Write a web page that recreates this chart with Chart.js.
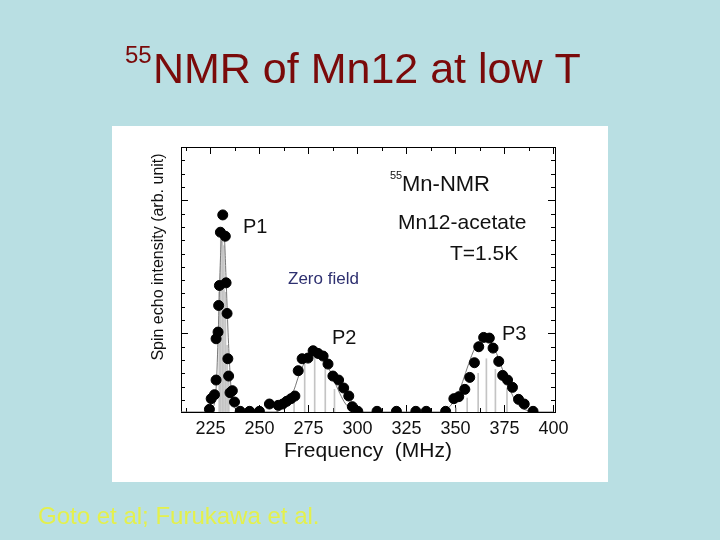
<!DOCTYPE html>
<html>
<head>
<meta charset="utf-8">
<script src="https://cdn.jsdelivr.net/npm/chart.js@4.4.0/dist/chart.umd.min.js"></script>
<style>
  html, body { margin: 0; padding: 0; background: #b9dfe3; }
  #wrap { width: 720px; height: 540px; }
</style>
</head>
<body>
<div id="wrap"><canvas id="graphique" width="720" height="540"></canvas></div>
<script>
// points mesures (frequence MHz, intensite arb.)
const freqMesure = [224.5, 225.4, 227.1, 227.9, 227.9, 228.9, 229.2, 229.6, 230.1, 231.3, 232.6, 233.0, 233.5,
  233.9, 234.3, 235.0, 236.2, 237.3, 240.2, 245.0, 250.0, 255.1, 259.6, 261.9, 263.9, 266.1, 268.1,
  269.8, 271.8, 274.8, 277.4, 279.9, 282.5, 285.0, 287.5, 290.4, 293.0, 295.6, 297.4, 300.2, 310.0,
  319.9, 329.8, 335.1, 345.0, 349.2, 351.7, 354.8, 357.3, 359.7, 361.9, 364.4, 367.3, 369.2, 372.1,
  374.1, 376.6, 379.1, 382.2, 385.1, 389.6];
const intensiteMesure = [0.2, 1.0, 1.3, 2.4, 5.5, 6.0, 8.0, 9.5, 13.5, 14.8, 13.2, 9.7, 7.4,
  4.0, 2.7, 1.45, 1.6, 0.75, 0.05, 0.05, 0.05, 0.6, 0.5, 0.6, 0.8, 1.0, 1.2,
  3.1, 4.0, 4.05, 4.6, 4.4, 4.2, 3.6, 2.7, 2.4, 1.8, 1.2, 0.4, 0.05, 0.05,
  0.05, 0.05, 0.05, 0.05, 1.0, 1.15, 1.7, 2.6, 3.7, 4.9, 5.6, 5.55, 4.8, 3.8,
  2.75, 2.4, 1.85, 0.95, 0.6, 0.05];

// courbe d'ajustement
const freqFit = [210, 222, 226, 228, 229, 230, 231, 232, 233, 234, 235, 236, 238, 240, 258, 262, 265, 268,
  270, 273, 276, 279, 282, 285, 288, 291, 294, 297, 300, 343, 347, 350, 353, 356, 359, 362, 365,
  368, 371, 374, 377, 380, 383, 387, 390, 400];
const intensiteFit = [0, 0, 0.3, 2.0, 6.0, 11.0, 13.8, 13.4, 10.0, 6.0, 3.0, 1.0, 0.2, 0, 0, 0.3, 0.8, 1.8,
  2.7, 3.7, 4.3, 4.4, 4.1, 3.4, 2.4, 1.4, 0.6, 0.2, 0, 0, 0.4, 1.0, 2.0, 3.3, 4.5, 5.3, 5.6,
  5.3, 4.4, 3.2, 2.0, 1.0, 0.4, 0.1, 0, 0];

// raies (spectre en batons)
const freqRaies = [229.5, 230.3, 231.1, 231.9, 232.7, 233.5, 234.4, 267.7, 273.1, 278.2, 283.6, 288.3,
  350.4, 356.0, 361.6, 365.8, 370.4, 376.3];
const hauteurRaies = [9.0, 13.0, 13.8, 12.5, 9.0, 5.0, 2.5, 1.4, 3.7, 4.3, 3.7, 1.7,
  0.3, 1.05, 2.9, 4.0, 3.2, 1.8];

// graduations
const xGraduations = [212.5, 225, 237.5, 250, 262.5, 275, 287.5, 300, 312.5, 325, 337.5, 350, 362.5, 375, 387.5, 400];
const xEtiquettes = [225, 250, 275, 300, 325, 350, 375, 400];
const yGraduations = [0.9, 1.9, 2.9, 3.9, 4.9, 5.9, 6.9, 7.9, 8.9, 9.9, 10.9, 11.9, 12.9, 13.9, 14.9, 15.9, 16.9, 17.9, 18.9];
const yMajeures = [5.9, 15.9];

const police = '"Liberation Sans", Arial, sans-serif';

function points(xs, ys) {
    return xs.map((x, i) => ({ x: x, y: ys[i] }));
}

// fond, titre, cadre, annotations
const decor = {
    id: 'decor',
    beforeDraw(chart) {
        const c = chart.ctx;
        c.save();
        c.fillStyle = '#b9dfe3';
        c.fillRect(0, 0, 720, 540);
        c.fillStyle = '#ffffff';
        c.fillRect(112, 126, 496, 356);
        c.restore();
    },
    beforeDatasetsDraw(chart) {
        const c = chart.ctx;
        const a = chart.chartArea;
        const sx = chart.scales.x, sy = chart.scales.y;
        c.save();
        c.strokeStyle = '#000';
        c.lineWidth = 1;
        c.strokeRect(Math.round(a.left) + 0.5, Math.round(a.top) + 0.5, Math.round(a.right - a.left), Math.round(a.bottom - a.top));
        c.beginPath();
        xGraduations.forEach(v => {
            const px = Math.round(sx.getPixelForValue(v)) + 0.5;
            const l = xEtiquettes.includes(v) ? 7 : 4;
            c.moveTo(px, a.bottom); c.lineTo(px, a.bottom - l);
            c.moveTo(px, a.top); c.lineTo(px, a.top + l);
        });
        yGraduations.forEach(v => {
            const py = Math.round(sy.getPixelForValue(v)) + 0.5;
            const l = yMajeures.includes(v) ? 7 : 4;
            c.moveTo(a.left, py); c.lineTo(a.left + l, py);
            c.moveTo(a.right, py); c.lineTo(a.right - l, py);
        });
        c.stroke();
        c.restore();
    },
    afterDraw(chart) {
        const c = chart.ctx;
        c.save();
        c.textBaseline = 'alphabetic';
        c.textAlign = 'left';
        // titre
        c.fillStyle = '#7a0a0a';
        c.font = '24px ' + police;
        c.fillText('55', 125, 63);
        c.font = '43px ' + police;
        c.fillText('NMR of Mn12 at low T', 153, 83);
        // axe y
        c.save();
        c.translate(163, 257);
        c.rotate(-Math.PI / 2);
        c.textAlign = 'center';
        c.fillStyle = '#111';
        c.font = '16px ' + police;
        c.fillText('Spin echo intensity (arb. unit)', 0, 0);
        c.restore();
        // annotations
        c.fillStyle = '#111';
        c.textBaseline = 'middle';
        c.font = '11px ' + police;
        c.fillText('55', 390, 176);
        c.font = '22px ' + police;
        c.fillText('Mn-NMR', 402, 185);
        c.font = '21px ' + police;
        c.fillText('Mn12-acetate', 398, 223);
        c.fillText('T=1.5K', 450, 254);
        c.font = '20px ' + police;
        c.fillText('P1', 243, 227);
        c.fillText('P2', 332, 338);
        c.fillText('P3', 502, 334);
        c.fillStyle = '#2e3070';
        c.font = '17px ' + police;
        c.fillText('Zero field', 288, 279);
        // reference
        c.textBaseline = 'alphabetic';
        c.fillStyle = '#e4f04c';
        c.font = '24px ' + police;
        c.fillText('Goto et al; Furukawa et al.', 38, 524);
        c.restore();
    }
};

const ctx = document.getElementById('graphique').getContext('2d');
new Chart(ctx, {
    type: 'scatter',
    data: {
        datasets: [
            {
                type: 'scatter',
                data: points(freqMesure, intensiteMesure),
                backgroundColor: '#000',
                borderColor: '#000',
                pointRadius: 5,
                borderWidth: 1,
                order: 0
            },
            {
                type: 'line',
                data: points(freqFit, intensiteFit),
                borderColor: '#777',
                borderWidth: 1,
                pointRadius: 0,
                fill: false,
                cubicInterpolationMode: 'monotone',
                order: 1
            },
            {
                type: 'bar',
                data: points(freqRaies, hauteurRaies),
                backgroundColor: '#c4c4c4',
                barThickness: 1,
                order: 2
            }
        ]
    },
    options: {
        responsive: false,
        animation: false,
        events: [],
        layout: { padding: { left: 181, right: 165, top: 147, bottom: 68 } },
        plugins: { legend: { display: false }, tooltip: { enabled: false } },
        scales: {
            x: {
                type: 'linear',
                min: 210,
                max: 400.8,
                offset: false,
                grid: { display: false, drawTicks: false },
                border: { display: false },
                afterBuildTicks: s => { s.ticks = xEtiquettes.map(v => ({ value: v })); },
                afterFit: s => { s.height = 60; },
                ticks: {
                    autoSkip: false,
                    maxRotation: 0,
                    padding: 6,
                    color: '#111',
                    font: { family: police, size: 18 }
                },
                title: {
                    display: true,
                    text: 'Frequency  (MHz)',
                    color: '#111',
                    font: { family: police, size: 21 },
                    padding: { top: 0, bottom: 8 }
                }
            },
            y: {
                min: 0,
                max: 19.9,
                grid: { display: false, drawTicks: false },
                border: { display: false },
                ticks: { display: false },
                afterFit: s => { s.width = 0; }
            }
        }
    },
    plugins: [decor]
});
</script>
</body>
</html>
